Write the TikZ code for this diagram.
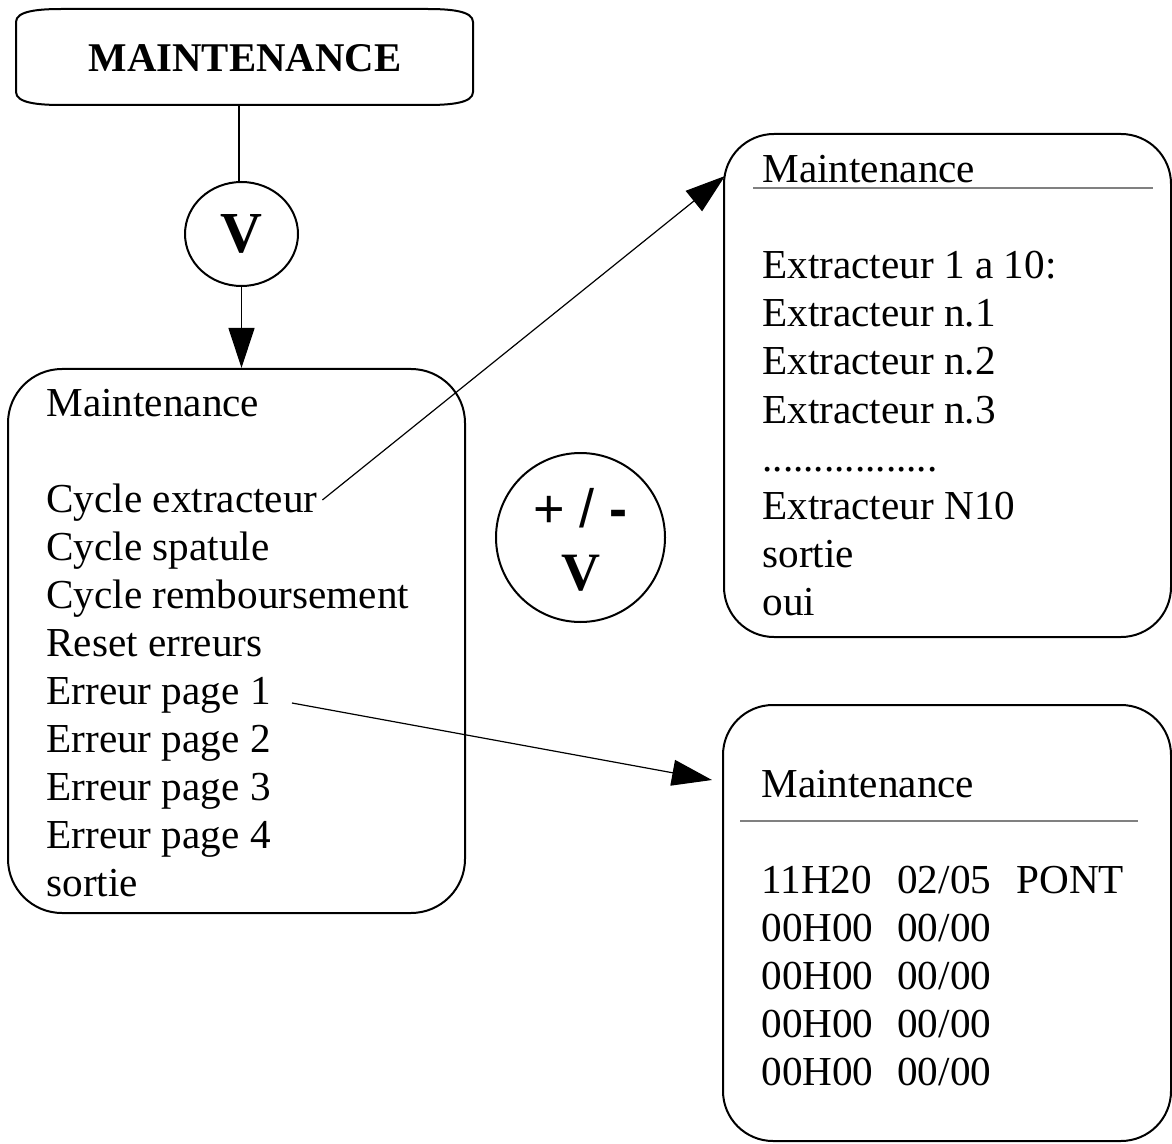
\documentclass[tikz,border=0pt]{standalone}
\usepackage{fontspec}
\setmainfont{Liberation Serif}
\newfontfamily\signfont{Liberation Sans}
\usetikzlibrary{arrows.meta,shapes.geometric}
\begin{document}
\begin{tikzpicture}[x=0.5pt,y=-0.5pt,
  frame/.style={draw=black, line width=1pt},
  panel/.style={frame, rectangle, rounded corners=25pt, inner sep=0pt},
  entry/.style={anchor=base west, inner sep=0pt, font=\fontsize{20.6}{24}\selectfont},
  link/.style={draw=black, line width=0.6pt},
  arrowlink/.style={link, -{Triangle[length=20pt,width=13pt]}},
  separator/.style={draw=black!50, line width=0.6pt},
]
\useasboundingbox (0,0) rectangle (1172,1144);

% title box with softly curved corners
\draw[frame] (16,22) .. controls (16,11) and (38,9) .. (62,9) -- (427,9)
  .. controls (451,9) and (473,11) .. (473,22) -- (473,92)
  .. controls (473,103) and (451,105) .. (427,105) -- (62,105)
  .. controls (38,105) and (16,103) .. (16,92) -- cycle;
\node[anchor=base, inner sep=0pt, font=\bfseries\fontsize{20.4}{24}\selectfont] (title) at (245,72) {MAINTENANCE};
\coordinate (titlebot) at (239,105);

% key V
\node[frame, ellipse, minimum width=56.5pt, minimum height=52pt, inner sep=0pt,
      font=\bfseries\fontsize{29}{29}\selectfont] (v1) at (241.5,234) {V};

% main menu
\node[panel, rounded corners=27pt, minimum width=228.5pt, minimum height=272pt] (menu) at (236.5,641) {};
\node[entry] (m0) at (46,416) {Maintenance};
\node[entry] (m1) at (46,512) {Cycle extracteur};
\node[entry] (m2) at (46,560) {Cycle spatule};
\node[entry] (m3) at (46,608) {Cycle remboursement};
\node[entry] (m4) at (46,656) {Reset erreurs};
\node[entry] (m5) at (46,704) {Erreur page 1};
\node[entry] (m6) at (46,752) {Erreur page 2};
\node[entry] (m7) at (46,800) {Erreur page 3};
\node[entry] (m8) at (46,848) {Erreur page 4};
\node[entry] (m9) at (46,896) {sortie};

% key +/- V
\node[frame, circle, minimum size=84.5pt, inner sep=0pt] (pm) at (580.5,537.5) {};
\node[anchor=base, inner sep=0pt, font=\signfont\fontsize{27}{27}\selectfont] (pmsign) at (580.5,527) {+ / \textbf{-}};
\node[anchor=base, inner sep=0pt, font=\bfseries\fontsize{27}{27}\selectfont] (pmv) at (581,590) {V};

% extractor screen
\node[panel, minimum width=223.5pt, minimum height=251.5pt] (ext) at (947.5,385.5) {};
\draw[separator] (753,188) -- (1153,188);
\node[entry] (e0) at (762,183) {Maintenance};
\node[entry] (e1) at (762,279) {Extracteur 1 a 10:};
\node[entry] (e2) at (762,327) {Extracteur n.1};
\node[entry] (e3) at (762,375) {Extracteur n.2};
\node[entry] (e4) at (762,423) {Extracteur n.3};
\node[entry] (e5) at (762,471) {.................};
\node[entry] (e6) at (762,519) {Extracteur N10};
\node[entry] (e7) at (762,567) {sortie};
\node[entry] (e8) at (762,615) {oui};
\coordinate (exttip) at (725,176);

% error log screen
\node[panel, minimum width=224pt, minimum height=218pt] (err) at (947,923) {};
\draw[separator] (740,821) -- (1138,821);
\node[entry] (r0) at (761,797) {Maintenance};
\node[entry] (r1) at (761,893) {\makebox[68pt][l]{11H20}\makebox[59.5pt][l]{02/05}PONT};
\node[entry] (r2) at (761,941) {\makebox[68pt][l]{00H00}00/00};
\node[entry] (r3) at (761,989) {\makebox[68pt][l]{00H00}00/00};
\node[entry] (r4) at (761,1037) {\makebox[68pt][l]{00H00}00/00};
\node[entry] (r5) at (761,1085) {\makebox[68pt][l]{00H00}00/00};
\coordinate (errtip) at (712,780);

% connectors
\draw[link, line width=0.9pt] (titlebot) -- (titlebot |- v1.north);
\draw[arrowlink] (v1) -- (v1 |- menu.north);
\draw[arrowlink] ([shift={(2.25pt,6pt)}]m1.base east) -- (exttip);
\draw[arrowlink] ([shift={(10.5pt,0.5pt)}]m5.base east) -- (errtip);
\end{tikzpicture}
\end{document}
